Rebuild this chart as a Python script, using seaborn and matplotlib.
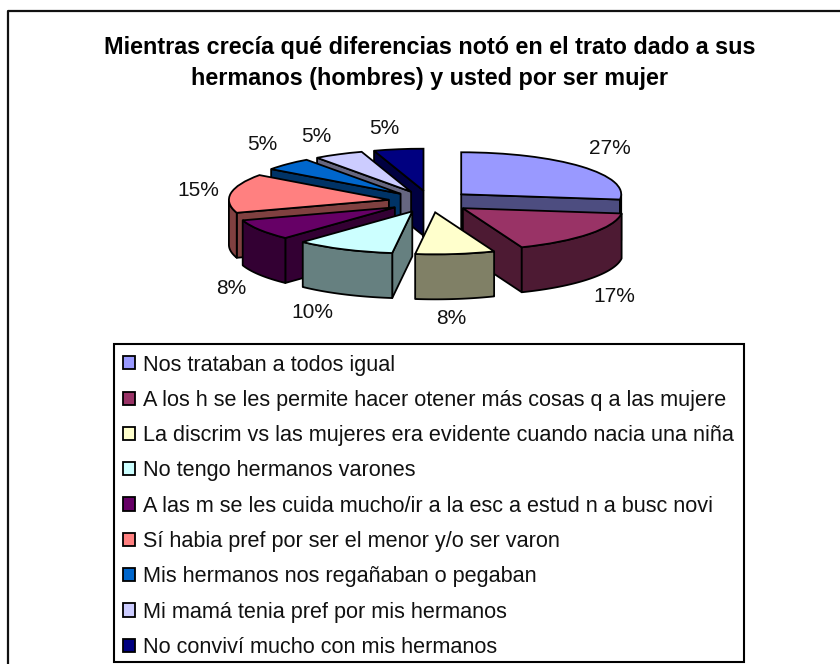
import numpy as np
import matplotlib
matplotlib.use("Agg")
import matplotlib.pyplot as plt
from matplotlib.lines import Line2D
from matplotlib.patches import Polygon, Rectangle
from matplotlib.colors import to_rgb
import seaborn as sns

titulo = "Mientras crecía qué diferencias notó en el trato dado a sus\nhermanos (hombres) y usted por ser mujer"
categorias = [
    "Nos trataban a todos igual",
    "A los h se les permite hacer otener más cosas q a las mujere",
    "La discrim vs las mujeres era evidente cuando nacia una niña",
    "No tengo hermanos varones",
    "A las m se les cuida mucho/ir a la esc a estud n a busc novi",
    "Sí habia pref por ser el menor y/o ser varon",
    "Mis hermanos nos regañaban o pegaban",
    "Mi mamá tenia pref por mis hermanos",
    "No conviví mucho con mis hermanos",
]
valores = [27, 17, 8, 10, 8, 15, 5, 5, 5]
colores = ["#9999FF", "#993366", "#FFFFCC", "#CCFFFF", "#660066",
           "#FF8080", "#0066CC", "#CCCCFF", "#000080"]

# layout in pixels of the 840x664 picture
W, H = 840, 664
CX, CY, RX, RY = 430, 201.5, 160, 42
DEPTH = 45 / RY
etiquetas_px = [(610, 149), (614, 296), (451, 319), (312, 312), (231, 288),
                (198, 190), (262, 145), (316, 136), (384, 129)]

sns.set_theme(style="white", palette=sns.color_palette(colores))
plt.rcParams["font.family"] = ["Liberation Sans", "DejaVu Sans"]


def a_datos(px, py):
    return (px - CX) / RX, (CY - py) / RY


def caras(w, prof):
    # faces of the extruded slice that look towards the viewer
    cx, cy = w.center
    t1, t2 = np.radians(w.theta1), np.radians(w.theta2)
    salida = []
    for t, normal in ((t1, t1 - np.pi / 2), (t2, t2 + np.pi / 2)):
        if np.sin(normal) < 0:
            x = cx + w.r * np.cos(t)
            y = cy + w.r * np.sin(t)
            salida.append([(cx, cy), (x, y), (x, y - prof), (cx, cy - prof)])
    t = np.linspace(t1, t2, 200)
    t = t[np.sin(t) < 0]
    if len(t) > 1:
        x = cx + w.r * np.cos(t)
        y = cy + w.r * np.sin(t)
        salida.append(list(zip(x, y)) + list(zip(x[::-1], y[::-1] - prof)))
    return salida


fig = plt.figure(figsize=(W / 100, H / 100), dpi=100)
ax = fig.add_axes([0, 0, 1, 1])

wedges, _, textos = ax.pie(
    valores,
    colors=colores,
    explode=[0.26] * len(valores),
    startangle=90,
    counterclock=False,
    autopct="%1.0f%%",
    wedgeprops={"edgecolor": "black", "linewidth": 1.3},
    textprops={"fontsize": 15, "color": "#111111"},
)
ax.set_aspect("auto")
ax.set_xlim(a_datos(0, 0)[0], a_datos(W, 0)[0])
ax.set_ylim(a_datos(0, H)[1], a_datos(0, 0)[1])

# back slices first so the front ones cover them
orden = sorted(range(len(wedges)), key=lambda i: -wedges[i].center[1])
for z, i in enumerate(orden):
    w = wedges[i]
    w.set_zorder(3 * z + 2)
    oscuro = tuple(c * 0.5 for c in to_rgb(colores[i]))
    for cara in caras(w, DEPTH):
        ax.add_patch(Polygon(cara, closed=True, facecolor=oscuro, edgecolor="black",
                             linewidth=1.3, joinstyle="round", zorder=3 * z + 1))

for txt, (px, py) in zip(textos, etiquetas_px):
    txt.set_position(a_datos(px, py))
    txt.set_zorder(100)

fig.text(430 / W, 1 - 63 / H, titulo, ha="center", va="center", fontsize=16.8,
         fontweight="bold", linespacing=1.44, color="black")

# frame drawn apart because the rows sit a bit low inside the box
leg = ax.legend(
    wedges,
    categorias,
    loc="lower left",
    bbox_to_anchor=(114 / W, 1 - 667 / H, 630 / W, 319 / H),
    bbox_transform=fig.transFigure,
    mode="expand",
    ncol=1,
    fontsize=15.6,
    labelcolor="#111111",
    frameon=False,
    borderaxespad=0,
    borderpad=0.42,
    labelspacing=0.66,
    handlelength=0.56,
    handleheight=0.56,
    handletextpad=0.37,
)
leg.set_zorder(200)
fig.add_artist(Rectangle((114 / W, 1 - 662 / H), 630 / W, 318 / H, transform=fig.transFigure,
                         fill=False, edgecolor="black", linewidth=1.5))

# outer border: only left and top reach into the picture
borde = Line2D([8 / W, 8 / W, 1], [0, 1 - 11 / H, 1 - 11 / H], transform=fig.transFigure,
               color="#111111", linewidth=1.6)
fig.add_artist(borde)

fig.savefig("out.png", dpi=100)
